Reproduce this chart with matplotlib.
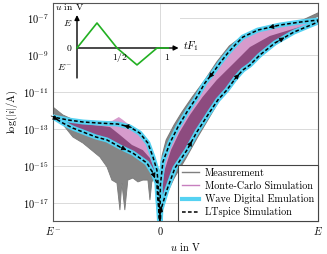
import numpy as np
import matplotlib
matplotlib.use("Agg")
import matplotlib.pyplot as plt
from matplotlib.lines import Line2D
from matplotlib.patches import Rectangle
from matplotlib.ticker import NullLocator

plt.rcParams["font.family"] = "cmr10"
plt.rcParams["mathtext.fontset"] = "cm"
plt.rcParams["axes.unicode_minus"] = False
plt.rcParams["font.size"] = 7

# u in units of E, current as log10(|i|/A)
E_NEG = -0.677

# emulated loop (wave digital / LTspice), four branches in time order
up_r_u = [0, 0.006, 0.019, 0.044, 0.095, 0.171, 0.234, 0.316, 0.367, 0.424, 0.480, 0.525, 0.570, 0.633, 0.728, 0.848, 1.0]
up_r_log = [-18.5, -17.38, -17.0, -16.30, -15.11, -14.14, -13.16, -12.08, -11.43, -10.89, -10.24, -9.81, -9.54, -9.0, -8.35, -7.76, -7.22]
dn_r_u = [1.0, 0.886, 0.759, 0.620, 0.525, 0.481, 0.430, 0.380, 0.335, 0.285, 0.234, 0.171, 0.114, 0.063, 0.019, 0.003, 0.0]
dn_r_log = [-7.11, -7.22, -7.38, -7.65, -8.03, -8.41, -8.89, -9.43, -9.97, -10.51, -11.27, -12.08, -12.89, -13.76, -14.78, -16.03, -18.5]
out_l_u = [0, -0.006, -0.013, -0.019, -0.044, -0.076, -0.127, -0.190, -0.266, -0.380, -0.487, -0.582, -0.677]
out_l_log = [-18.5, -16.84, -15.76, -15.22, -14.51, -13.76, -13.22, -12.89, -12.73, -12.68, -12.62, -12.51, -12.35]
back_l_u = [-0.677, -0.614, -0.551, -0.487, -0.405, -0.335, -0.253, -0.171, -0.082, -0.044, -0.019, -0.013, -0.006, 0]
back_l_log = [-12.35, -12.68, -12.95, -13.16, -13.43, -13.59, -13.97, -14.30, -14.84, -15.38, -15.92, -16.84, -17.38, -18.5]

# Monte-Carlo envelope
mc_top_l_u = [-0.677, -0.487, -0.380, -0.300, -0.260, -0.235, -0.205, -0.160, -0.127, -0.076, -0.044, -0.019, -0.006, 0]
mc_top_l_log = [-12.35, -12.58, -12.62, -12.55, -12.35, -12.50, -12.70, -12.95, -13.15, -13.70, -14.45, -15.20, -16.60, -18.5]
mc_mid_l_u = [-0.677, -0.475, -0.316, -0.253, -0.177, -0.108, -0.063, -0.032, -0.013, 0]
mc_mid_l_log = [-12.41, -12.73, -12.89, -13.32, -13.86, -14.14, -14.57, -15.22, -16.30, -18.5]
mc_mid_r_u = [0.905, 0.696, 0.570, 0.475, 0.360, 0.270, 0.190, 0.125, 0.070, 0.030, 0.010, 0]
mc_mid_r_log = [-7.43, -7.97, -8.57, -9.38, -10.35, -11.27, -12.24, -13.16, -14.14, -15.22, -16.30, -18.5]

# measurement band
meas_r_top_u = [1.013, 0.905, 0.759, 0.620, 0.525, 0.440, 0.360, 0.285, 0.205, 0.140, 0.090, 0.040, 0.015, 0.0, -0.003]
meas_r_top_log = [-6.68, -7.11, -7.38, -7.59, -7.97, -8.51, -9.38, -10.35, -11.27, -12.08, -12.78, -13.59, -14.41, -15.49, -17.65]
meas_r_bot_u = [1.013, 0.900, 0.770, 0.646, 0.557, 0.470, 0.385, 0.310, 0.235, 0.165, 0.090, 0.030, 0.006]
meas_r_bot_log = [-6.84, -7.35, -7.85, -8.50, -9.30, -10.24, -11.32, -12.41, -13.49, -14.57, -15.65, -16.73, -17.65]
meas_l_top_u = [-0.677, -0.614, -0.487, -0.316, -0.158, -0.076, -0.032, -0.013, -0.003]
meas_l_top_log = [-11.81, -12.24, -12.73, -13.0, -13.43, -13.92, -14.57, -15.49, -17.65]
meas_l_bot_u = [-0.677, -0.551, -0.487, -0.380, -0.335, -0.304, -0.272, -0.253, -0.241, -0.222, -0.203,
                -0.171, -0.139, -0.108, -0.076, -0.063, -0.051, -0.032, -0.019, -0.006, -0.003]
meas_l_bot_log = [-12.08, -13.43, -13.76, -14.51, -15.05, -15.76, -15.92, -17.38, -15.92, -17.38, -15.76,
                  -15.65, -15.86, -15.76, -15.76, -16.84, -15.86, -15.59, -15.05, -16.84, -17.65]

# excitation signal in the inset
sig_t = [0, 0.25, 0.5, 0.75, 1.0, 1.14]
sig_u = [0, 1, 0, E_NEG, 0, 0]

y_exp = [-7, -9, -11, -13, -15, -17]
labels = ["Measurement", "Monte-Carlo Simulation", "Wave Digital Emulation", "LTspice Simulation"]


def cur(lg):
    return 10.0 ** np.asarray(lg, dtype=float)


def head(ax, u, lg, i):
    # arrow head in the middle of segment i -> i+1, pointing along the loop
    p0 = ax.transData.transform((u[i], 10 ** lg[i]))
    p1 = ax.transData.transform((u[i + 1], 10 ** lg[i + 1]))
    d = (p1 - p0) / np.hypot(*(p1 - p0))
    um = (u[i] + u[i + 1]) / 2
    lm = (lg[i] + lg[i + 1]) / 2
    ax.annotate("", xy=(um, 10 ** lm), xytext=(-d[0] * 8, -d[1] * 8), textcoords="offset pixels",
                arrowprops=dict(arrowstyle="-|>", color="k", lw=0.5, mutation_scale=7.5,
                                shrinkA=0, shrinkB=0), zorder=7)


fig = plt.figure(figsize=(3.27, 2.54), dpi=100)
ax = fig.add_axes([0.162, 0.130, 0.810, 0.858])
ax.set_yscale("log")
ax.set_axisbelow(True)
ax.set_xlim(E_NEG, 1.0)
ax.set_ylim(10 ** -17.97, 10 ** -6.19)

gray = "#858585"
ax.fill(np.r_[meas_r_top_u, meas_r_bot_u[::-1]], cur(np.r_[meas_r_top_log, meas_r_bot_log[::-1]]),
        fc=gray, ec="#7a7a7a", lw=0.8, zorder=2)
ax.fill(np.r_[meas_l_top_u, meas_l_bot_u[::-1]], cur(np.r_[meas_l_top_log, meas_l_bot_log[::-1]]),
        fc=gray, ec="#7a7a7a", lw=0.6, zorder=2)

light = "#d69bcc"
dark = "#8d4b7f"
ax.fill(np.r_[up_r_u, dn_r_u], cur(np.r_[up_r_log, dn_r_log]), fc=light, lw=0, zorder=3)
ax.fill(np.r_[mc_top_l_u, back_l_u[::-1]], cur(np.r_[mc_top_l_log, back_l_log[::-1]]), fc=light, lw=0, zorder=3)
ax.fill(np.r_[up_r_u[:-1], mc_mid_r_u], cur(np.r_[up_r_log[:-1], mc_mid_r_log]), fc=dark, lw=0, zorder=4)
ax.fill(np.r_[mc_mid_l_u, back_l_u[::-1]], cur(np.r_[mc_mid_l_log, back_l_log[::-1]]), fc=dark, lw=0, zorder=4)

loop_u = np.r_[up_r_u, dn_r_u, out_l_u, back_l_u]
loop_log = np.r_[up_r_log, dn_r_log, out_l_log, back_l_log]
cyan = "#55d2f2"
ax.plot(loop_u, cur(loop_log), color=cyan, lw=3.6, solid_capstyle="butt", zorder=5)
ax.plot(loop_u, cur(loop_log), color="k", lw=1.1, dashes=(2.4, 1.5), zorder=6)

for i in (1, 5, 10, 14):
    head(ax, up_r_u, up_r_log, i)
for i in (2, 8):
    head(ax, dn_r_u, dn_r_log, i)
for i in (7,):
    head(ax, out_l_u, out_l_log, i)
for i in (0, 6, 9):
    head(ax, back_l_u, back_l_log, i)

ax.set_xticks([E_NEG, 0, 1])
ax.set_xticklabels(["$E^{-}$", "$0$", "$E$"])
ax.set_yticks(cur(y_exp))
ax.set_yticklabels(["$10^{%d}$" % e for e in y_exp])
ax.yaxis.set_minor_locator(NullLocator())
ax.tick_params(length=0, labelsize=7.5, pad=3)
ax.yaxis.grid(True, color="#dadada", lw=0.7)
ax.axvline(0, color="#dadada", lw=0.7, zorder=0.9)
for s in ax.spines.values():
    s.set_color("#555555")
    s.set_linewidth(0.8)
ax.set_xlabel("$u$ in V", fontsize=7.5, labelpad=3)
ax.set_ylabel(r"$\log(|i|/\mathrm{A})$", fontsize=7.5, labelpad=2)

# white area behind the inset
ax.add_patch(Rectangle((0, 0.638), 0.479, 0.362, transform=ax.transAxes, fc="white", ec="none", zorder=0.8))

handles = [Line2D([], [], color="#7f7f7f", lw=1.0),
           Line2D([], [], color="#c77fbf", lw=1.0),
           Line2D([], [], color=cyan, lw=3.0),
           Line2D([], [], color="k", lw=1.1, dashes=(2.4, 1.5))]
leg = ax.legend(handles, labels, loc="lower right", bbox_to_anchor=(1, 0), borderaxespad=0,
                fancybox=False, edgecolor="#444444", framealpha=1, fontsize=7.3,
                handlelength=1.7, labelspacing=0.33, borderpad=0.35, handletextpad=0.6)
leg.get_frame().set_linewidth(0.8)
leg.set_zorder(10)

# inset with the excitation
ins = fig.add_axes([53 / 327, (254 - 78) / 254, 128 / 327, 75 / 254])
ins.set_xlim(-0.3, 1.3)
ins.set_ylim(-1.2, 1.8)
ins.axis("off")
ins.patch.set_alpha(0)
arr = dict(arrowstyle="-|>", color="k", lw=1.0, mutation_scale=7, shrinkA=0, shrinkB=0)
ins.annotate("", xy=(0, 1.32), xytext=(0, -1.2), arrowprops=arr)
ins.annotate("", xy=(1.27, 0), xytext=(0, 0), arrowprops=arr)
ins.plot(sig_t, sig_u, color="#22b022", lw=1.2, zorder=3)
ins.text(-0.09, 1.64, "$u$ in V", ha="center", va="center", fontsize=7)
ins.text(-0.06, 1.0, "$E$", ha="right", va="center", fontsize=7)
ins.text(-0.06, 0.0, "$0$", ha="right", va="center", fontsize=7)
ins.text(-0.06, -0.76, "$E^{-}$", ha="right", va="center", fontsize=7)
ins.text(0.54, -0.36, "$1/2$", ha="center", va="center", fontsize=7)
ins.text(1.12, -0.36, "$1$", ha="center", va="center", fontsize=7)
ins.text(1.33, 0.08, "$tF_1$", ha="left", va="center", fontsize=7.5, clip_on=False)

fig.savefig("out.png", dpi=100)
